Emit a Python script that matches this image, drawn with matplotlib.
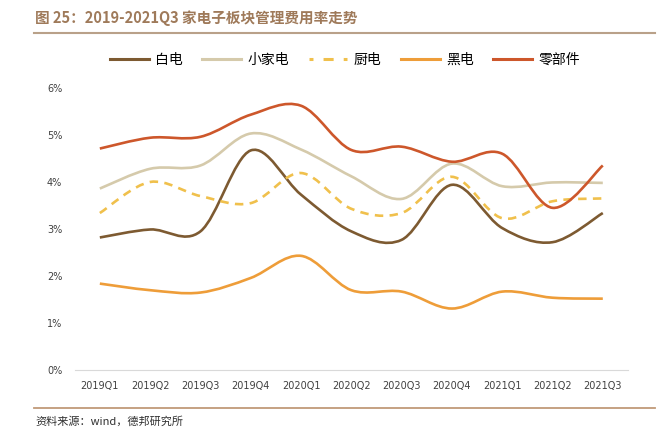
import matplotlib.pyplot as plt
import numpy as np
from matplotlib.path import Path
from matplotlib.patches import PathPatch
from matplotlib.lines import Line2D

plt.rcParams['font.family'] = ['Noto Sans CJK SC', 'DejaVu Sans']

quarters = ["2019Q1", "2019Q2", "2019Q3", "2019Q4", "2020Q1", "2020Q2",
            "2020Q3", "2020Q4", "2021Q1", "2021Q2", "2021Q3"]
baidian = [2.82, 2.99, 2.95, 4.67, 3.73, 2.95, 2.77, 3.94, 3.02, 2.72, 3.34]
xiaojiadian = [3.86, 4.28, 4.35, 5.03, 4.69, 4.12, 3.64, 4.39, 3.91, 3.99, 3.98]
chudian = [3.34, 4.00, 3.70, 3.55, 4.19, 3.43, 3.34, 4.11, 3.23, 3.59, 3.65]
heidian = [1.84, 1.70, 1.65, 1.96, 2.43, 1.70, 1.67, 1.31, 1.67, 1.54, 1.52]
lingbujian = [4.71, 4.94, 4.96, 5.43, 5.62, 4.68, 4.75, 4.43, 4.60, 3.45, 4.35]

series = [
    ("白电", baidian, "#7d5a31", "-"),
    ("小家电", xiaojiadian, "#d5caab", "-"),
    ("厨电", chudian, "#f0c04c", (0, (3.2, 2.4))),
    ("黑电", heidian, "#ee9d39", "-"),
    ("零部件", lingbujian, "#cd572b", "-"),
]


def smooth_path(x, y):
    # excel-style smoothed line as cubic bezier segments
    pts = np.column_stack([x, y]).astype(float)
    verts = [pts[0]]
    codes = [Path.MOVETO]
    n = len(pts)
    for i in range(n - 1):
        p0 = pts[max(i - 1, 0)]
        p1 = pts[i]
        p2 = pts[i + 1]
        p3 = pts[min(i + 2, n - 1)]
        c1 = p1 + (p2 - p0) / 6
        c2 = p2 - (p3 - p1) / 6
        verts += [c1, c2, p2]
        codes += [Path.CURVE4] * 3
    return Path(verts, codes)


fig = plt.figure(figsize=(6.61, 4.46), dpi=100)
ax = fig.add_axes([0.113, 0.170, 0.837, 0.633])

x = np.arange(len(quarters))
handles = []
for name, vals, color, ls in series:
    patch = PathPatch(smooth_path(x, vals), facecolor="none", edgecolor=color,
                      lw=1.9, linestyle=ls, capstyle="butt")
    ax.add_patch(patch)
    hls = (2, (3.3, 3.3)) if ls != "-" else ls
    handles.append(Line2D([], [], color=color, lw=2.2, linestyle=hls, label=name))

ax.set_xlim(-0.5, 10.5)
ax.set_ylim(0, 6)
ax.set_xticks(x)
ax.set_xticklabels(quarters, fontsize=7, color="#404040", family="DejaVu Sans")
ax.set_yticks(range(7))
ax.set_yticklabels([f"{v}%" for v in range(7)], fontsize=7, color="#404040",
                   family="DejaVu Sans")
ax.tick_params(length=0, pad=8)
ax.tick_params(axis="y", pad=9)
for s in ["top", "right", "left"]:
    ax.spines[s].set_visible(False)
ax.spines["bottom"].set_color("#d9d9d9")

fig.legend(handles=handles, loc="center", bbox_to_anchor=(0.522, 0.866), ncol=5,
           frameon=False, fontsize=10, handlelength=2.8, handletextpad=0.45,
           columnspacing=1.4)

fig.text(0.053, 0.960, "图 25：2019-2021Q3 家电子板块管理费用率走势", fontsize=10.5,
         fontweight="bold", color="#9f7a5a", va="center")
fig.add_artist(Line2D([0.051, 0.991], [0.926, 0.926], color="#b9a189", lw=1.5))
fig.add_artist(Line2D([0.051, 0.991], [0.085, 0.085], color="#c09a78", lw=1.3))
fig.text(0.053, 0.054, "资料来源：wind，德邦研究所", fontsize=8, color="#303030",
         va="center")

fig.savefig("out.png", dpi=100)
